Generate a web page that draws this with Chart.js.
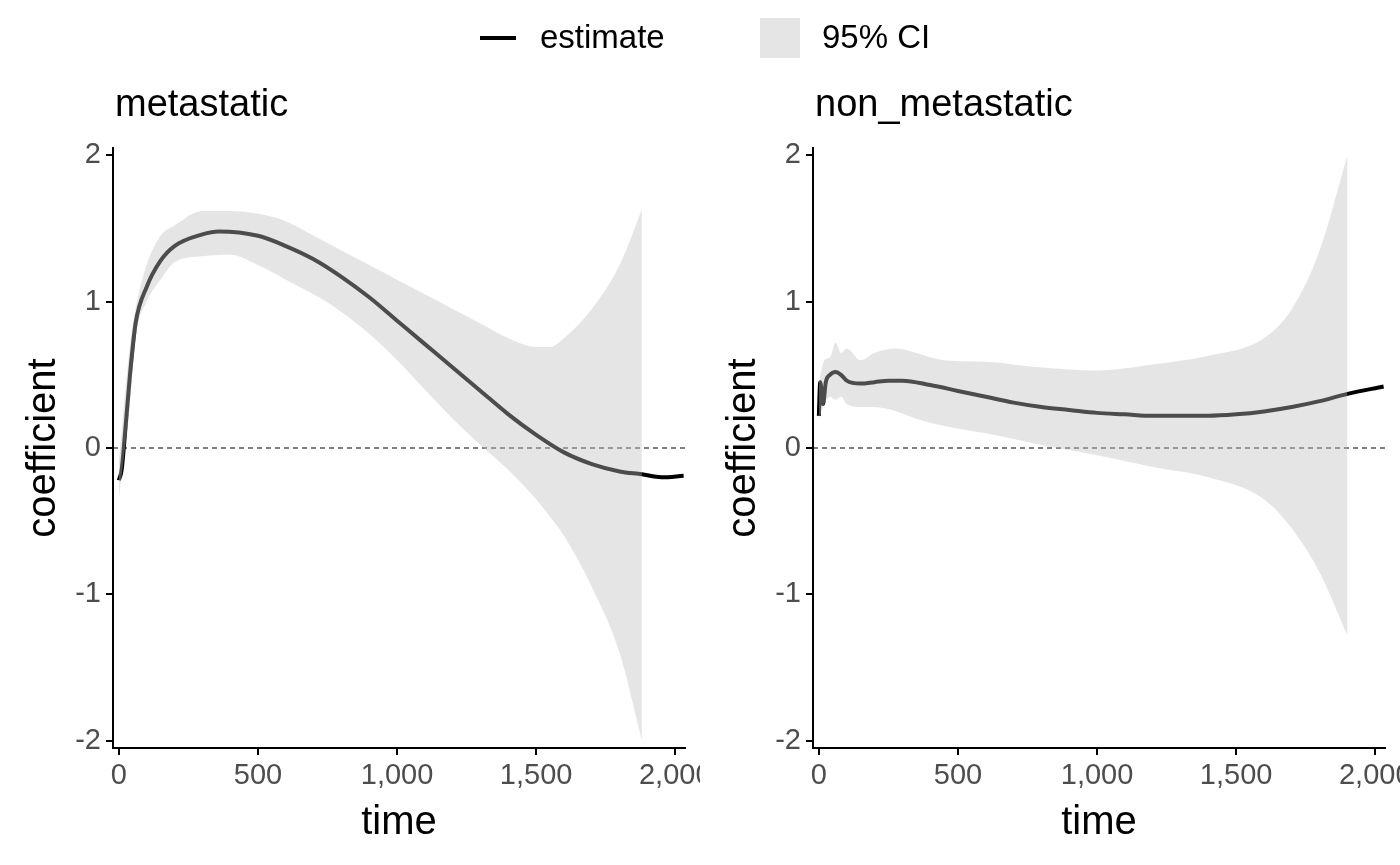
<!DOCTYPE html>
<html>
<head>
<meta charset="utf-8">
<script src="https://cdn.jsdelivr.net/npm/chart.js@4.4.0/dist/chart.umd.min.js"></script>
<style>
  body { margin: 0; background: #fff; font-family: "Liberation Sans", Arial, sans-serif; }
  .wrap { position: absolute; top: 0; width: 700px; height: 865px; overflow: hidden; }
  .ttl { position: absolute; top: 82px; left: 115px; font-size: 38px; color: #000; }
  .legend { position: absolute; top: 16px; left: 0; width: 1400px; height: 50px; font-size: 33px; }
</style>
</head>
<body>
<div class="wrap" style="left:0"><canvas id="c1" width="740" height="865"></canvas><div class="ttl">metastatic</div></div>
<div class="wrap" style="left:700px"><canvas id="c2" width="740" height="865"></canvas><div class="ttl">non_metastatic</div></div>
<div class="legend">
  <div style="position:absolute;left:480px;top:20px;width:36px;height:4px;background:#000"></div>
  <div style="position:absolute;left:540px;top:2px">estimate</div>
  <div style="position:absolute;left:760px;top:2px;width:40px;height:40px;background:#e5e5e5"></div>
  <div style="position:absolute;left:822px;top:2px">95% CI</div>
</div>
<script>
// metastatic
let met_t = [0, 10, 20, 40, 60, 100, 150, 200, 300, 360, 500, 600, 700, 800, 900, 1000, 1100, 1200, 1300, 1400, 1500, 1600, 1700, 1800, 1880, 1950, 2030]
let met_est = [-0.22, -0.15, 0.05, 0.5, 0.85, 1.1, 1.28, 1.38, 1.46, 1.48, 1.45, 1.38, 1.29, 1.17, 1.03, 0.87, 0.71, 0.55, 0.39, 0.23, 0.09, -0.03, -0.11, -0.16, -0.18, -0.2, -0.19]
let met_ci_t = [0, 40, 60, 100, 150, 200, 300, 400, 500, 600, 700, 800, 900, 1000, 1100, 1200, 1300, 1400, 1500, 1550, 1600, 1700, 1800, 1880]
let met_hi = [-0.1, 0.7, 0.95, 1.25, 1.45, 1.52, 1.62, 1.62, 1.6, 1.55, 1.45, 1.35, 1.25, 1.15, 1.05, 0.95, 0.85, 0.75, 0.69, 0.69, 0.75, 0.95, 1.25, 1.63]
let met_lo = [-0.35, 0.3, 0.75, 1.0, 1.15, 1.27, 1.31, 1.32, 1.25, 1.15, 1.05, 0.93, 0.78, 0.6, 0.4, 0.2, 0.02, -0.15, -0.35, -0.47, -0.6, -0.95, -1.4, -2.0]

// non_metastatic
let non_t = [0, 5, 15, 25, 40, 60, 80, 100, 150, 200, 250, 300, 400, 500, 600, 700, 800, 900, 1000, 1100, 1200, 1300, 1400, 1500, 1600, 1700, 1800, 1900, 2030]
let non_est = [0.22, 0.45, 0.3, 0.45, 0.5, 0.52, 0.5, 0.46, 0.44, 0.45, 0.46, 0.46, 0.43, 0.39, 0.35, 0.31, 0.28, 0.26, 0.24, 0.23, 0.22, 0.22, 0.22, 0.23, 0.25, 0.28, 0.32, 0.37, 0.42]
let non_ci_t = [0, 20, 40, 60, 80, 100, 150, 200, 280, 350, 450, 600, 800, 1000, 1200, 1400, 1600, 1700, 1800, 1900]
let non_hi = [0.45, 0.6, 0.62, 0.72, 0.65, 0.68, 0.6, 0.65, 0.68, 0.65, 0.6, 0.59, 0.55, 0.53, 0.57, 0.63, 0.75, 0.95, 1.35, 2.0]
let non_lo = [0.2, 0.3, 0.35, 0.33, 0.35, 0.3, 0.28, 0.28, 0.25, 0.2, 0.15, 0.1, 0.02, -0.05, -0.13, -0.2, -0.35, -0.55, -0.85, -1.28]

let x_ticks = [0, 500, 1000, 1500, 2000]
let y_ticks = [-2, -1, 0, 1, 2]

function pts(xs, ys) { return xs.map((x, i) => ({ x: x, y: ys[i] })) }

function desenhar(id, t, est, ci_t, hi, lo) {
    let ctx = document.getElementById(id).getContext('2d')
    let band = 'rgba(190,190,190,0.4)'
    new Chart(ctx, {
        type: 'line',
        data: {
            datasets: [
                { data: [{ x: -21, y: 0 }, { x: 2035, y: 0 }], borderColor: '#000', borderWidth: 1.2, borderDash: [5, 4], pointRadius: 0, order: 4 },
                { data: pts(t, est), borderColor: '#000', borderWidth: 4, pointRadius: 0, cubicInterpolationMode: 'monotone', order: 3 },
                { data: pts(ci_t, hi), borderWidth: 0, borderColor: 'rgba(0,0,0,0)', backgroundColor: band, pointRadius: 0, fill: '+1', cubicInterpolationMode: 'monotone', order: 1 },
                { data: pts(ci_t, lo), borderWidth: 0, borderColor: 'rgba(0,0,0,0)', pointRadius: 0, fill: false, cubicInterpolationMode: 'monotone', order: 2 }
            ]
        },
        options: {
            responsive: false,
            animation: false,
            layout: { padding: { top: 148, right: 55, left: 0, bottom: 0 } },
            plugins: { legend: { display: false }, tooltip: { enabled: false } },
            scales: {
                x: {
                    type: 'linear', min: -21, max: 2035,
                    afterBuildTicks: s => { s.ticks = x_ticks.map(v => ({ value: v })) },
                    afterFit: s => { s.height = 117 },
                    border: { color: '#000', width: 2 },
                    grid: { drawOnChartArea: false, color: '#000', tickLength: 7, lineWidth: 2 },
                    ticks: { color: '#4d4d4d', font: { size: 29, family: 'Liberation Sans' }, padding: 4, maxRotation: 0 },
                    title: { display: true, text: 'time', color: '#000', font: { size: 40, family: 'Liberation Sans' }, padding: { top: 0, bottom: 18 } }
                },
                y: {
                    min: -2.05, max: 2.05,
                    afterBuildTicks: s => { s.ticks = y_ticks.map(v => ({ value: v })) },
                    afterFit: s => { s.width = 113 },
                    border: { color: '#000', width: 2 },
                    grid: { drawOnChartArea: false, color: '#000', tickLength: 7, lineWidth: 2 },
                    ticks: { color: '#4d4d4d', font: { size: 29, family: 'Liberation Sans' }, padding: 5 },
                    title: { display: true, text: 'coefficient', color: '#000', font: { size: 40, family: 'Liberation Sans' }, padding: { top: 20, bottom: 0 } }
                }
            }
        }
    })
}

desenhar('c1', met_t, met_est, met_ci_t, met_hi, met_lo)
desenhar('c2', non_t, non_est, non_ci_t, non_hi, non_lo)
</script>
</body>
</html>
